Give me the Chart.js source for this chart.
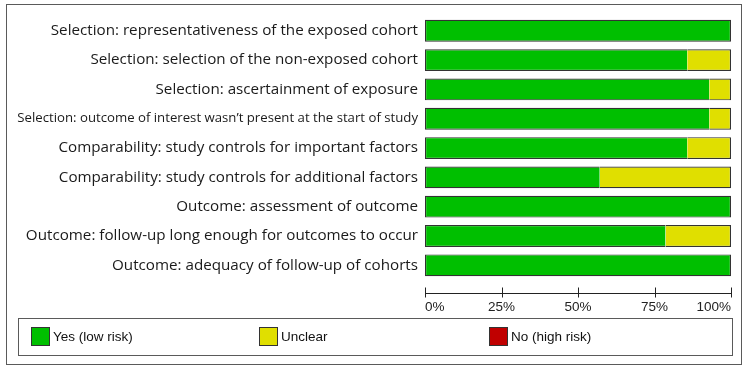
<!DOCTYPE html>
<html>
<head>
<meta charset="utf-8">
<script src="https://cdn.jsdelivr.net/npm/chart.js@4"></script>
<style>
  html, body { margin: 0; padding: 0; background: #fff; }
  #wrap { position: relative; width: 750px; height: 371px; }
  #frame {
    position: absolute; left: 6px; top: 4px; width: 736px; height: 361px;
    border: 1.5px solid #5a5a5a; box-sizing: border-box; pointer-events: none;
  }
  #rob-chart { position: absolute; left: 0; top: 0; }
  #legend {
    position: absolute; left: 18px; top: 318px; width: 715px; height: 38px;
    border: 1.5px solid #5a5a5a; box-sizing: border-box;
    font-family: "Liberation Sans", Arial, sans-serif; font-size: 13.5px; color: #111;
  }
  .item { position: absolute; top: 8px; height: 20px; line-height: 20px; white-space: nowrap; }
  .swatch {
    display: inline-block; width: 19px; height: 19px; box-sizing: border-box;
    border: 1px solid #333; vertical-align: top; margin-right: 3px;
  }
</style>
</head>
<body>
<div id="wrap">
  <canvas id="rob-chart" width="750" height="371"></canvas>
  <div id="legend"></div>
  <div id="frame"></div>
</div>
<script>
// ======================= DATA =======================
const categories = [
  "Selection: representativeness of the exposed cohort",
  "Selection: selection of the non-exposed cohort",
  "Selection: ascertainment of exposure",
  "Selection: outcome of interest wasn\u2019t present at the start of study",
  "Comparability: study controls for important factors",
  "Comparability: study controls for additional factors",
  "Outcome: assessment of outcome",
  "Outcome: follow-up long enough for outcomes to occur",
  "Outcome: adequacy of follow-up of cohorts"
];
const yesLowRisk  = [100, 85.7, 92.9, 92.9, 85.7, 57.1, 100, 78.6, 100];
const unclear     = [0, 14.3, 7.1, 7.1, 14.3, 42.9, 0, 21.4, 0];
const noHighRisk  = [0, 0, 0, 0, 0, 0, 0, 0, 0];
const xTickValues = [0, 25, 50, 75, 100];

const GREEN = "#00BF00";
const YELLOW = "#E0DF00";
const RED = "#C00000";
const EDGE = "#333333";

// ======================= BORDERS =======================
// outer edges only, so the green/yellow join has no line
function edgeWidth(ctx) {
  const ds = ctx.chart.data.datasets;
  const i = ctx.dataIndex;
  let first = -1, last = -1;
  ds.forEach((d, k) => { if (d.data[i] > 0) { if (first < 0) first = k; last = k; } });
  return {
    top: 1.2, bottom: 1.2,
    left: ctx.datasetIndex === first ? 1.2 : 0,
    right: ctx.datasetIndex === last ? 1.2 : 0
  };
}

// ======================= AXIS LINE PLUGIN =======================
const axisLine = {
  id: "axisLine",
  afterDraw(chart) {
    const x = chart.scales.x;
    const c = chart.ctx;
    const y = chart.chartArea.bottom + 13.5;
    c.save();
    c.strokeStyle = "#222";
    c.lineWidth = 1;
    c.beginPath();
    c.moveTo(x.getPixelForValue(0), y);
    c.lineTo(x.getPixelForValue(100), y);
    xTickValues.forEach(v => {
      const px = Math.round(x.getPixelForValue(v)) + 0.5;
      c.moveTo(px, y - 6);
      c.lineTo(px, y + 4);
    });
    c.stroke();
    c.restore();
  }
};

// ======================= CHART =======================
const ctx = document.getElementById("rob-chart").getContext("2d");
const robChart = new Chart(ctx, {
  type: "bar",
  data: {
    labels: categories,
    datasets: [
      { label: "Yes (low risk)", data: yesLowRisk, backgroundColor: GREEN },
      { label: "Unclear", data: unclear, backgroundColor: YELLOW },
      { label: "No (high risk)", data: noHighRisk, backgroundColor: RED }
    ]
  },
  options: {
    indexAxis: "y",
    responsive: false,
    animation: false,
    layout: { padding: { top: 13, right: 19, bottom: 0, left: 0 } },
    datasets: {
      bar: {
        barPercentage: 0.745,
        categoryPercentage: 1,
        borderColor: EDGE,
        borderSkipped: false,
        borderWidth: edgeWidth
      }
    },
    scales: {
      x: {
        stacked: true,
        min: 0, max: 100,
        afterBuildTicks: s => { s.ticks = xTickValues.map(v => ({ value: v })); },
        afterFit: s => { s.height = 91; },
        grid: { display: false, drawTicks: false },
        border: { display: false },
        ticks: {
          align: "inner",
          padding: 19,
          color: "#222",
          font: { family: "'Liberation Sans', Arial, sans-serif", size: 13.5 },
          callback: v => v + "%"
        }
      },
      y: {
        stacked: true,
        afterFit: s => { s.width = 425; },
        grid: { display: false, drawTicks: false },
        border: { display: false },
        ticks: {
          padding: 7,
          color: "#1a1a1a",
          font: c => ({ family: "'Open Sans', sans-serif", size: c.index === 3 ? 13.2 : 15.2 })
        }
      }
    },
    plugins: {
      legend: { display: false },
      tooltip: { enabled: false }
    }
  },
  plugins: [axisLine]
});

// ======================= LEGEND (HTML) =======================
const legendBox = document.getElementById("legend");
const legendX = [12, 240, 470];
robChart.data.datasets.forEach((d, k) => {
  const item = document.createElement("div");
  item.className = "item";
  item.style.left = legendX[k] + "px";
  item.innerHTML = `<span class="swatch" style="background:${d.backgroundColor}"></span>${d.label}`;
  legendBox.appendChild(item);
});
</script>
</body>
</html>
